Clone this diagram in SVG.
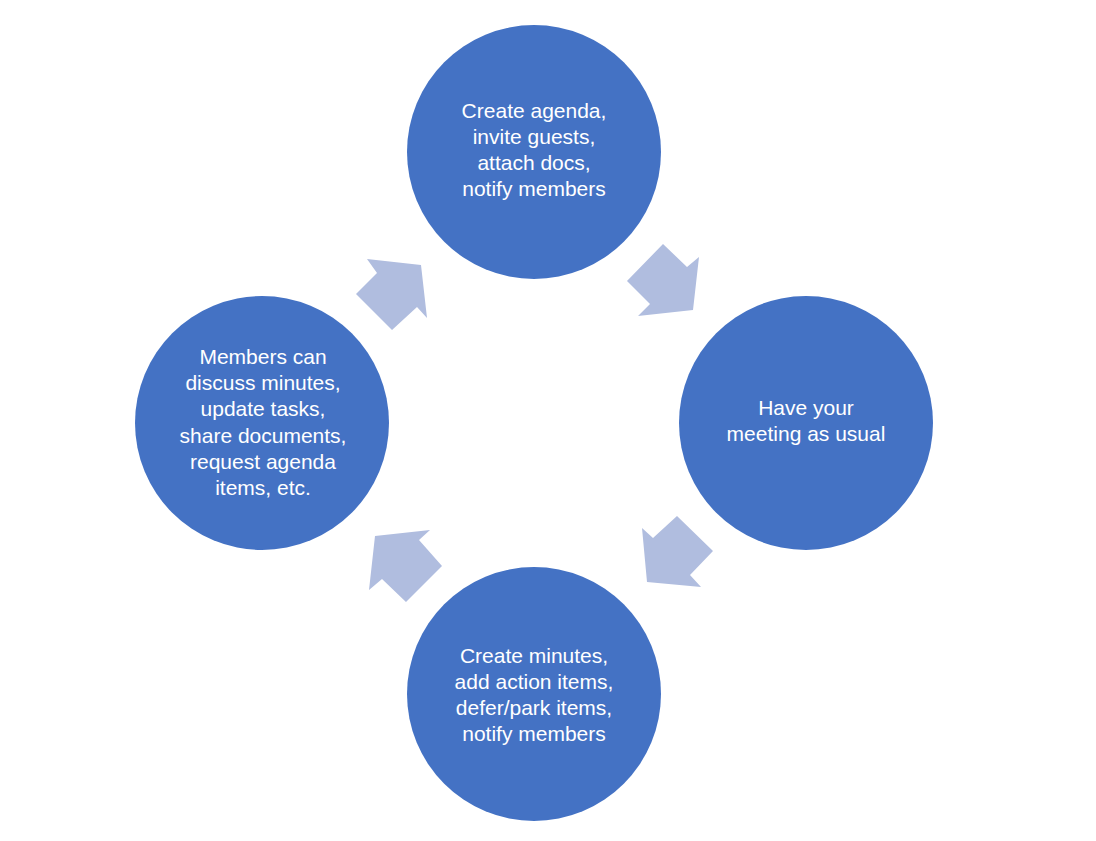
<svg xmlns="http://www.w3.org/2000/svg" width="1096" height="841" viewBox="0 0 1096 841">
<style>
.node circle{fill:#4472C4;}
.node text{font-family:"Liberation Sans",Arial,sans-serif;font-size:21px;fill:#FFFFFF;text-anchor:middle;}
.arrow{fill:#B0BDDF;}
</style>
<rect width="1096" height="841" fill="#FFFFFF"/>
<g id="connectors">
<polygon class="arrow" points="663,244 687,267 699,257 693,310 638,316 650,304 627,281"/>
<polygon class="arrow" points="677,516 713,551 690,575 701,587 647,582 642,528 653,538"/>
<polygon class="arrow" points="430,530 419,540 442,566 406,602 382,579 369,590 375,536"/>
<polygon class="arrow" points="367,259 421,265 427,318 417,307 392,330 356,294 377,273"/>
</g>
<g id="node-top" class="node">
<circle cx="534" cy="152" r="127"/>
<text x="534" y="118">Create agenda,</text>
<text x="534" y="144">invite guests,</text>
<text x="534" y="170">attach docs,</text>
<text x="534" y="196">notify members</text>
</g>
<g id="node-right" class="node">
<circle cx="806" cy="423" r="127"/>
<text x="806" y="415">Have your</text>
<text x="806" y="441">meeting as usual</text>
</g>
<g id="node-bottom" class="node">
<circle cx="534" cy="694" r="127"/>
<text x="534" y="663">Create minutes,</text>
<text x="534" y="689">add action items,</text>
<text x="534" y="715">defer/park items,</text>
<text x="534" y="741">notify members</text>
</g>
<g id="node-left" class="node">
<circle cx="262" cy="423" r="127"/>
<text x="263" y="364">Members can</text>
<text x="263" y="390">discuss minutes,</text>
<text x="263" y="416">update tasks,</text>
<text x="263" y="443">share documents,</text>
<text x="263" y="469">request agenda</text>
<text x="263" y="495">items, etc.</text>
</g>
</svg>
